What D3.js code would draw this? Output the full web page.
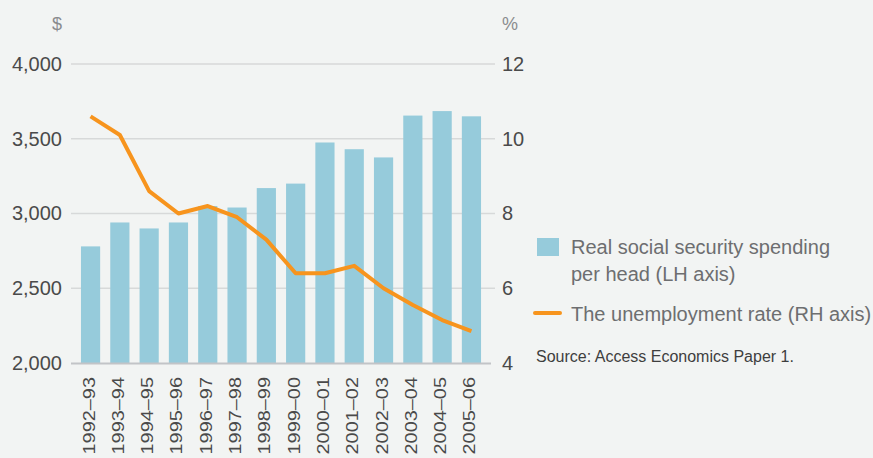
<!DOCTYPE html>
<html>
<head>
<meta charset="utf-8">
<script src="https://cdn.jsdelivr.net/npm/d3@7"></script>
<style>
  html, body { margin: 0; padding: 0; background: #f2f4f3; }
  svg { display: block; font-family: "Liberation Sans", Arial, sans-serif; }
</style>
</head>
<body>
<svg id="chart" width="873" height="458"></svg>
<script>
// Financial years
const years = ["1992–93","1993–94","1994–95","1995–96","1996–97","1997–98","1998–99",
               "1999–00","2000–01","2001–02","2002–03","2003–04","2004–05","2005–06"];
// Real social security spending per head ($, left axis)
const spending = [2780, 2940, 2900, 2940, 3050, 3040, 3170, 3200, 3475, 3430, 3375, 3655, 3685, 3650];
// Unemployment rate (%, right axis)
const unemployment = [10.6, 10.1, 8.6, 8.0, 8.2, 7.9, 7.3, 6.4, 6.4, 6.6, 6.0, 5.55, 5.15, 4.85];
// Tick values
const leftTicks = [2000, 2500, 3000, 3500, 4000];
const rightTicks = [4, 6, 8, 10, 12];

const svg = d3.select("#chart");
const plot = { left: 71, right: 491, top: 64, bottom: 363 };

const x = d3.scaleBand().domain(years).range([plot.left, plot.right])
  .paddingInner(0.345).paddingOuter(0.34);
const yL = d3.scaleLinear().domain([2000, 4000]).range([plot.bottom, plot.top]);
const yR = d3.scaleLinear().domain([4, 12]).range([plot.bottom, plot.top]);

// Gridlines
svg.append("g").selectAll("line").data(leftTicks.slice(1)).join("line")
  .attr("x1", plot.left).attr("x2", 495)
  .attr("y1", d => yL(d)).attr("y2", d => yL(d))
  .attr("stroke", "#d7d9d9").attr("stroke-width", 1.3);

// Bars
svg.append("g").selectAll("rect").data(years).join("rect")
  .attr("x", d => x(d)).attr("width", x.bandwidth())
  .attr("y", (d, i) => yL(spending[i]))
  .attr("height", (d, i) => yL(2000) - yL(spending[i]))
  .attr("fill", "#96cbdb");

// Baseline
svg.append("line").attr("x1", plot.left).attr("x2", plot.right)
  .attr("y1", plot.bottom + 0.5).attr("y2", plot.bottom + 0.5)
  .attr("stroke", "#c2c4c7").attr("stroke-width", 2);

// Unemployment line
const line = d3.line().x((d, i) => x(years[i]) + x.bandwidth() / 2).y(d => yR(d));
svg.append("path").datum(unemployment).attr("d", line)
  .attr("fill", "none").attr("stroke", "#f7941d").attr("stroke-width", 4)
  .attr("stroke-linejoin", "round");

// Left axis
const leftAxis = svg.append("g").attr("transform", `translate(${plot.left},0)`)
  .call(d3.axisLeft(yL).tickValues(leftTicks).tickFormat(d3.format(",")).tickSize(0).tickPadding(9));
leftAxis.select(".domain").remove();
leftAxis.selectAll("text").attr("font-size", 20).attr("fill", "#4a4a4a")
  .attr("font-family", "Liberation Sans, Arial, sans-serif");

// Right axis
const rightAxis = svg.append("g").attr("transform", `translate(495,0)`)
  .call(d3.axisRight(yR).tickValues(rightTicks).tickSize(0).tickPadding(7));
rightAxis.select(".domain").remove();
rightAxis.selectAll("text").attr("font-size", 20).attr("fill", "#4a4a4a")
  .attr("font-family", "Liberation Sans, Arial, sans-serif");

// Units
svg.append("text").attr("x", 57).attr("y", 30).attr("text-anchor", "middle")
  .attr("font-size", 18).attr("fill", "#8a8c8e").text("$");
svg.append("text").attr("x", 502).attr("y", 30)
  .attr("font-size", 18).attr("fill", "#8a8c8e").text("%");

// Category labels, rotated and slightly stretched along the reading direction
svg.append("g").selectAll("text").data(years).join("text")
  .attr("transform", d => `translate(${x(d) + x.bandwidth() / 2 + 4},377) rotate(-90) scale(1.17,1)`)
  .attr("text-anchor", "end")
  .attr("font-size", 17).attr("fill", "#4a4a4a")
  .text(d => d);

// Legend
const legend = svg.append("g");
legend.append("rect").attr("x", 537).attr("y", 238).attr("width", 22).attr("height", 18)
  .attr("fill", "#96cbdb");
const lt = legend.append("text").attr("font-size", 20).attr("fill", "#6d6e70");
lt.append("tspan").attr("x", 571).attr("y", 254).text("Real social security spending");
lt.append("tspan").attr("x", 571).attr("y", 281).text("per head (LH axis)");
legend.append("line").attr("x1", 535).attr("x2", 560).attr("y1", 313).attr("y2", 313)
  .attr("stroke", "#f7941d").attr("stroke-width", 4).attr("stroke-linecap", "round");
legend.append("text").attr("x", 571).attr("y", 321).attr("font-size", 20).attr("fill", "#6d6e70")
  .text("The unemployment rate (RH axis)");

svg.append("text").attr("x", 536).attr("y", 362).attr("font-size", 16).attr("fill", "#3e3e3e")
  .text("Source: Access Economics Paper 1.");
</script>
</body>
</html>
